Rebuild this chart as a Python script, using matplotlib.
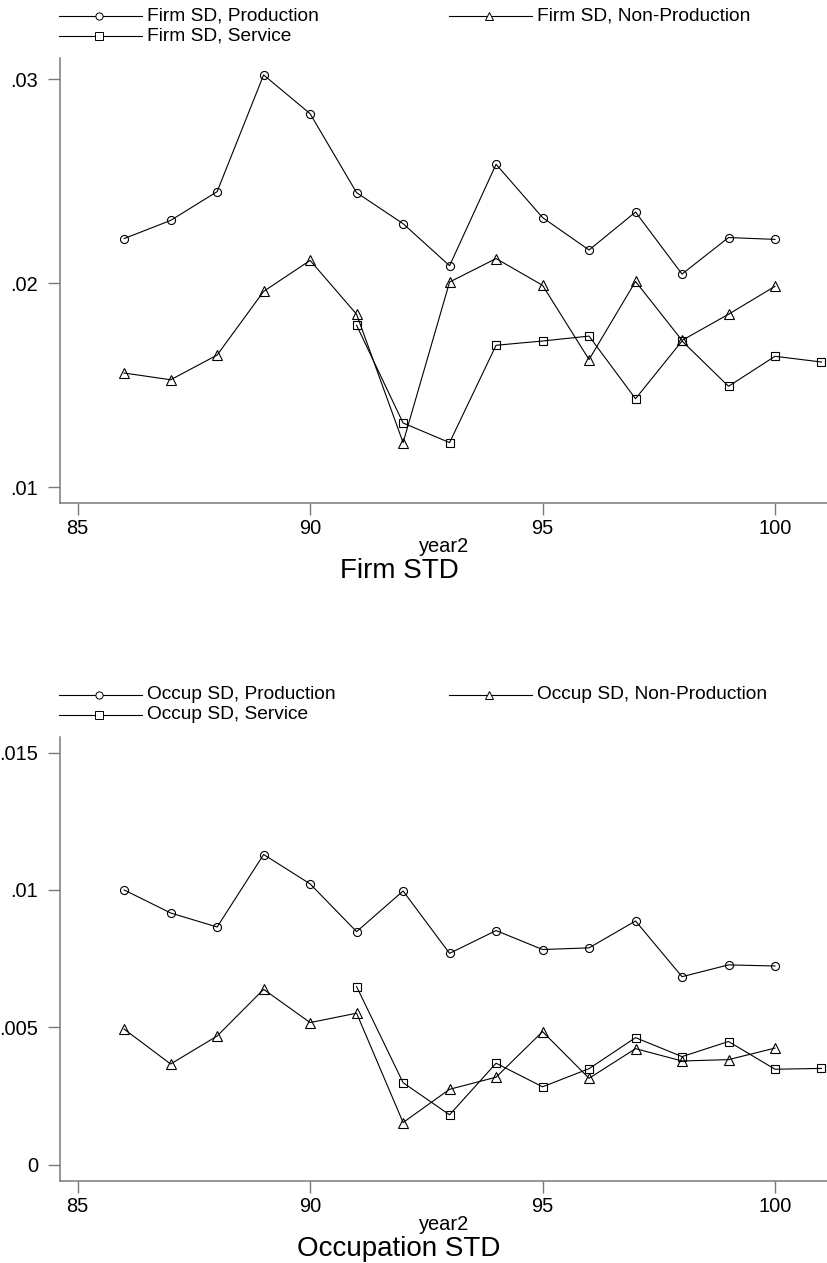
import matplotlib
matplotlib.use("Agg")
import matplotlib.pyplot as plt
from matplotlib.lines import Line2D

plt.rcParams["font.family"] = ["Liberation Sans", "DejaVu Sans"]

# ---- data ----
years_prod = [86, 87, 88, 89, 90, 91, 92, 93, 94, 95, 96, 97, 98, 99, 100]
years_nonprod = [86, 87, 88, 89, 90, 91, 92, 93, 94, 95, 96, 97, 98, 99, 100]
years_serv = [91, 92, 93, 94, 95, 96, 97, 98, 99, 100, 101]

firm_prod = [0.02218, 0.02307, 0.02448, 0.0302, 0.0283, 0.02443, 0.02291, 0.02085,
             0.02582, 0.02321, 0.02162, 0.02348, 0.02044, 0.02223, 0.02214]
firm_nonprod = [0.01559, 0.01526, 0.01647, 0.01959, 0.02111, 0.01847, 0.01218, 0.02005,
                0.0212, 0.01989, 0.01625, 0.02008, 0.01719, 0.01847, 0.01984]
firm_serv = [0.01793, 0.01314, 0.01218, 0.01695, 0.01716, 0.0174, 0.01433, 0.01716,
             0.01494, 0.01641, 0.01613]

occ_prod = [0.0100, 0.00916, 0.00865, 0.01129, 0.01022, 0.00848, 0.00996, 0.00769,
            0.00852, 0.00783, 0.00789, 0.00887, 0.00684, 0.00727, 0.00723]
occ_nonprod = [0.00493, 0.00366, 0.00468, 0.00638, 0.00517, 0.00551, 0.00153, 0.00274,
               0.00318, 0.00484, 0.00314, 0.00422, 0.00377, 0.00382, 0.00424]
occ_serv = [0.00648, 0.00298, 0.00181, 0.00369, 0.00283, 0.00349, 0.00462, 0.00393,
            0.00448, 0.00347, 0.0035]

x_ticks = [85, 90, 95, 100]
firm_yticks = [0.01, 0.02, 0.03]
firm_yticklabels = [".01", ".02", ".03"]
occ_yticks = [0.0, 0.005, 0.01, 0.015]
occ_yticklabels = ["0", ".005", ".01", ".015"]

W, H = 828, 1263
SPINE = "#7a7a7a"


def fx(px):
    return px / W


def fy(py):
    return 1 - py / H


fig = plt.figure(figsize=(W / 100, H / 100), dpi=100)


def panel(top_px, bot_px, series, labels, yticks, yticklabels, ylim, title):
    ax = fig.add_axes([fx(60), fy(bot_px), 1 - fx(60), (bot_px - top_px) / H])
    markers = ["o", "^", "s"]
    sizes = [5.8, 6.8, 6.3]
    for (xs, ys), m, ms in zip(series, markers, sizes):
        ax.plot(xs, ys, color="black", lw=0.8, marker=m, ms=ms,
                mfc="none", mec="black", mew=0.8, clip_on=False)
    ax.set_xlim(84.62, 101.14)
    ax.set_ylim(*ylim)
    ax.set_xticks(x_ticks)
    ax.set_xticklabels([str(t) for t in x_ticks], fontsize=14.4)
    ax.set_yticks(yticks)
    ax.set_yticklabels(yticklabels, fontsize=14.4)
    for s in ("top", "right"):
        ax.spines[s].set_visible(False)
    for s in ("left", "bottom"):
        ax.spines[s].set_color(SPINE)
        ax.spines[s].set_linewidth(1.1)
    ax.tick_params(axis="both", length=8.6, width=1.0, color=SPINE)
    ax.tick_params(axis="y", pad=7)
    ax.tick_params(axis="x", pad=3)
    ax.set_xlabel("year2", fontsize=14.4, labelpad=-1)

    # legend, laid out like Stata's two-column key
    y1, y2 = top_px - 42, top_px - 22
    entries = [(59, y1, "o", labels[0]), (449, y1, "^", labels[1]), (59, y2, "s", labels[2])]
    for x0, yy, m, lab in entries:
        fig.add_artist(Line2D([fx(x0), fx(x0 + 83)], [fy(yy), fy(yy)], color="black",
                              lw=0.8, transform=fig.transFigure))
        fig.add_artist(Line2D([fx(x0 + 40)], [fy(yy)], marker=m, ms=5.2, mfc="white",
                              mec="black", mew=0.7, transform=fig.transFigure))
        fig.text(fx(x0 + 88), fy(yy), lab, fontsize=13.8, va="center", ha="left")

    fig.text(fx(399), fy(bot_px + 68), title, fontsize=20, ha="center", va="center")
    return ax


panel(58, 503,
      [(years_prod, firm_prod), (years_nonprod, firm_nonprod), (years_serv, firm_serv)],
      ["Firm SD, Production", "Firm SD, Non-Production", "Firm SD, Service"],
      firm_yticks, firm_yticklabels, (0.00922, 0.03103), "Firm STD")

panel(736.7, 1181,
      [(years_prod, occ_prod), (years_nonprod, occ_nonprod), (years_serv, occ_serv)],
      ["Occup SD, Production", "Occup SD, Non-Production", "Occup SD, Service"],
      occ_yticks, occ_yticklabels, (-0.0006, 0.01558), "Occupation STD")

fig.savefig("out.png", dpi=100)
